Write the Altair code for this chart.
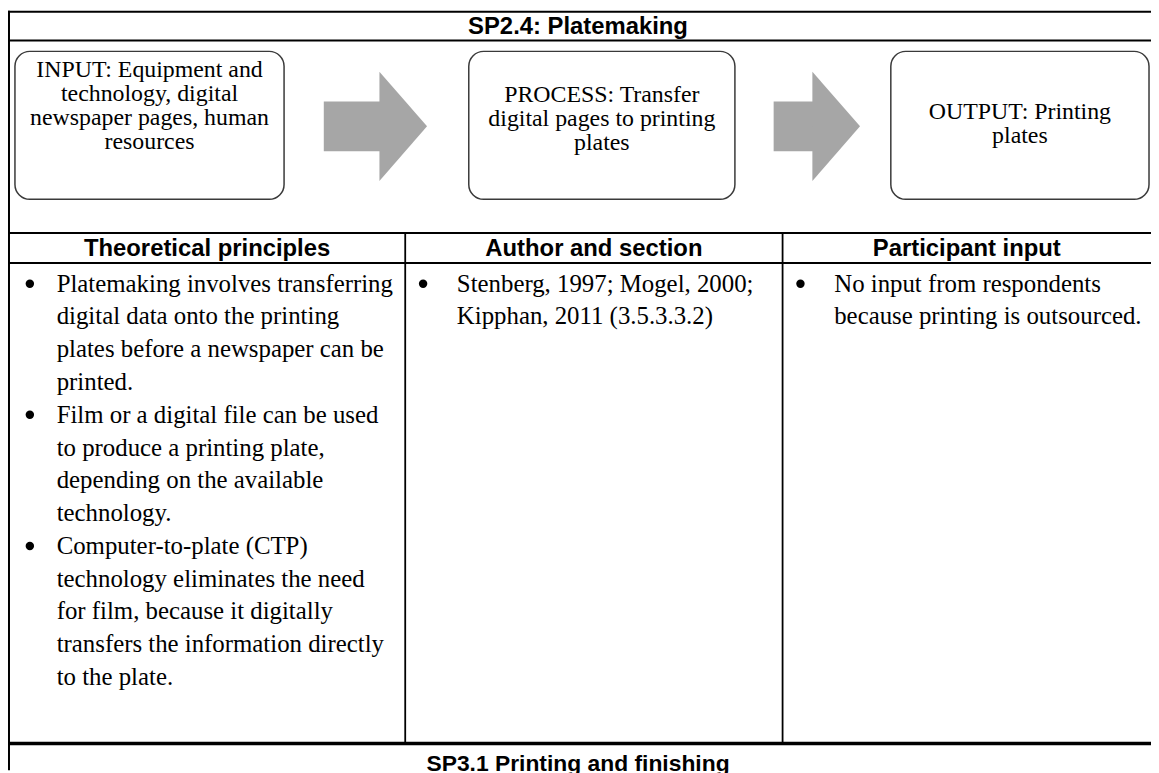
import altair as alt
import pandas as pd

# ---------------- content ----------------
title_text = "SP2.4: Platemaking"
next_title_text = "SP3.1 Printing and finishing"
box_lines = [
    ["INPUT: Equipment and", "technology, digital", "newspaper pages, human", "resources"],
    ["PROCESS: Transfer", "digital pages to printing", "plates"],
    ["OUTPUT: Printing", "plates"],
]
column_headers = ["Theoretical principles", "Author and section", "Participant input"]
theory_bullets = [
    ["Platemaking involves transferring", "digital data onto the printing",
     "plates before a newspaper can be", "printed."],
    ["Film or a digital file can be used", "to produce a printing plate,",
     "depending on the available", "technology."],
    ["Computer-to-plate (CTP)", "technology eliminates the need",
     "for film, because it digitally", "transfers the information directly", "to the plate."],
]
author_bullets = [["Stenberg, 1997; Mogel, 2000;", "Kipphan, 2011 (3.5.3.3.2)"]]
participant_bullets = [["No input from respondents", "because printing is outsourced."]]
column_bullets = [theory_bullets, author_bullets, participant_bullets]

# ---------------- layout (page pixels) ----------------
PAGE_W, PAGE_H, MARGIN = 1159, 773, 8
left_x = 9
col_edges = [left_x, 408, 788, PAGE_W]
y_top, y_title_bottom = 9, 38
y_head_top, y_head_bottom = 232, 262
y_body_bottom = 746
box_top, box_bottom = 49, 198
box_x = [(15, 286), (472, 740), (897, 1157)]
box_first_line = [68, 93, 110]
box_line_gap = 24
arrow_geo = [(326, 382, 430), (779, 821, 863)]   # body start, head base, tip
arrow_cy, arrow_body_half, arrow_head_half = 124.5, 25, 55
body_first, body_gap = 283, 33
bullet_xs = [30, 426, 806]
text_xs = [57, 460, 840]

xs = alt.Scale(domain=[MARGIN, PAGE_W], nice=False, zero=False)
ys = alt.Scale(domain=[MARGIN, PAGE_H], nice=False, zero=False, reverse=True)


def pos(extra=None):
    enc = dict(x=alt.X("x:Q", scale=xs, axis=None), y=alt.Y("y:Q", scale=ys, axis=None))
    if extra:
        enc.update(extra)
    return enc


# ---------------- rules ----------------
rule_rows = []
for yy, w in [(y_top, 2), (y_title_bottom, 2), (y_head_top, 2), (y_head_bottom, 2), (y_body_bottom, 3.5)]:
    rule_rows.append(dict(x=MARGIN, x2=PAGE_W, y=yy, y2=yy, w=w))
rule_rows.append(dict(x=left_x, x2=left_x, y=MARGIN, y2=PAGE_H, w=2))
for cx in col_edges[1:3]:
    rule_rows.append(dict(x=cx, x2=cx, y=y_head_top, y2=y_body_bottom, w=1.8))
rules = alt.Chart(pd.DataFrame(rule_rows)).mark_rule(color="black").encode(
    **pos(dict(x2="x2:Q", y2="y2:Q",
               strokeWidth=alt.StrokeWidth("w:Q", scale=None, legend=None)))
)

# ---------------- boxes ----------------
box_df = pd.DataFrame([dict(x=a, x2=b, y=box_top, y2=box_bottom) for a, b in box_x])
boxes = alt.Chart(box_df).mark_rect(
    cornerRadius=15, fill="white", stroke="#3a3a3a", strokeWidth=1.5
).encode(**pos(dict(x2="x2:Q", y2="y2:Q")))

# ---------------- arrows (body rect + triangular head) ----------------
arrow_color = "#a6a6a6"
body_df = pd.DataFrame([dict(x=x0, x2=xb + 2, y=arrow_cy - arrow_body_half, y2=arrow_cy + arrow_body_half)
                        for x0, xb, xt in arrow_geo])
arrow_bodies = alt.Chart(body_df).mark_rect(color=arrow_color).encode(**pos(dict(x2="x2:Q", y2="y2:Q")))

head_half_w = (arrow_geo[0][2] - arrow_geo[0][1]) / 2
hx = head_half_w / arrow_head_half
head_path = f"M{-hx:.3f},-1L{hx:.3f},0L{-hx:.3f},1Z"
head_df = pd.DataFrame([dict(x=(xb + xt) / 2, y=arrow_cy) for x0, xb, xt in arrow_geo])
arrow_heads = alt.Chart(head_df).mark_point(
    shape=head_path, filled=True, color=arrow_color, opacity=1, strokeWidth=0,
    size=(2 * arrow_head_half) ** 2
).encode(**pos())

# ---------------- box text ----------------
bt_rows = []
for (a, b), lines, y0 in zip(box_x, box_lines, box_first_line):
    for j, line in enumerate(lines):
        bt_rows.append(dict(x=(a + b) / 2, y=y0 + j * box_line_gap, text=line))
box_text = alt.Chart(pd.DataFrame(bt_rows)).mark_text(
    font="Liberation Serif", fontSize=24, align="center", baseline="middle", color="black"
).encode(**pos(dict(text="text:N")))

# ---------------- headings ----------------
hd_rows = [dict(x=(col_edges[0] + PAGE_W) / 2 - 2, y=(y_top + y_title_bottom) / 2 + 1, text=title_text)]
for i, h in enumerate(column_headers):
    hd_rows.append(dict(x=(col_edges[i] + col_edges[i + 1]) / 2, y=(y_head_top + y_head_bottom) / 2 + 1, text=h))
headings = alt.Chart(pd.DataFrame(hd_rows)).mark_text(
    font="Liberation Sans", fontSize=24, fontWeight="bold", align="center", baseline="middle", color="black"
).encode(**pos(dict(text="text:N")))

next_df = pd.DataFrame([dict(x=(col_edges[0] + PAGE_W) / 2 - 2, y=PAGE_H + 1, text=next_title_text)])
next_heading = alt.Chart(next_df).mark_text(
    font="Liberation Sans", fontSize=23, fontWeight="bold", align="center", baseline="alphabetic", color="black"
).encode(**pos(dict(text="text:N")))

# ---------------- body text and bullets ----------------
body_rows, bullet_rows = [], []
for c, bullets in enumerate(column_bullets):
    li = 0
    for lines in bullets:
        bullet_rows.append(dict(x=bullet_xs[c], y=body_first + li * body_gap))
        for line in lines:
            body_rows.append(dict(x=text_xs[c], y=body_first + li * body_gap, text=line))
            li += 1
body_text = alt.Chart(pd.DataFrame(body_rows)).mark_text(
    font="Liberation Serif", fontSize=25, align="left", baseline="middle", color="black"
).encode(**pos(dict(text="text:N")))
bullet_marks = alt.Chart(pd.DataFrame(bullet_rows)).mark_point(
    shape="circle", filled=True, size=72, color="black", opacity=1
).encode(**pos())

chart = alt.layer(
    rules, boxes, arrow_bodies, arrow_heads, box_text, headings, next_heading, body_text, bullet_marks
).properties(
    width=PAGE_W - MARGIN, height=PAGE_H - MARGIN, padding=0,
    autosize=alt.AutoSizeParams(type="none"), background="white",
).configure_view(stroke=None)

chart.save("out.html", embed_options={"renderer": "svg", "actions": False})
